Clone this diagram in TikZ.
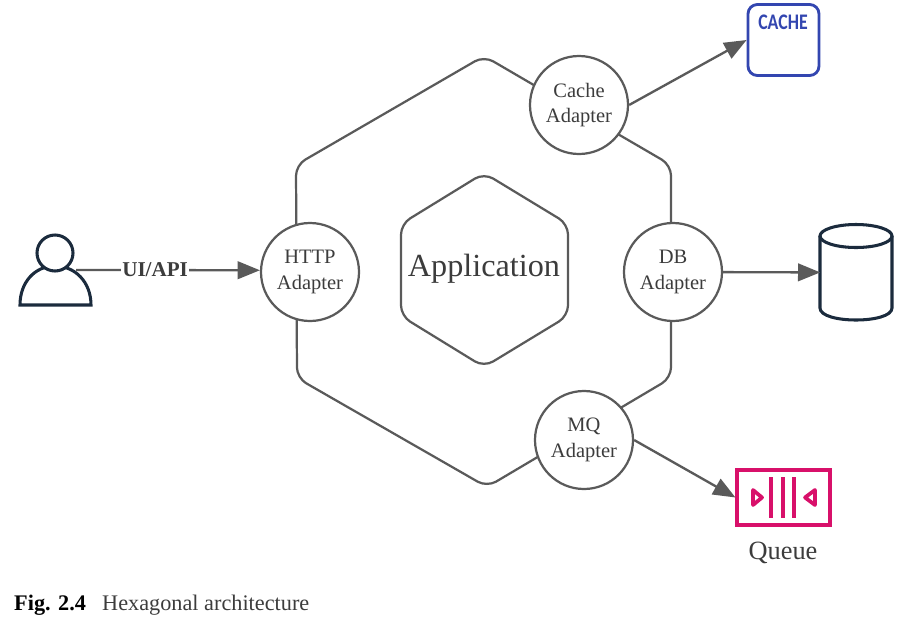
\documentclass[tikz,border=0pt]{standalone}
\usepackage{fontspec}
\setmainfont{Liberation Serif}
\newfontfamily\cachefont{Carlito}
\usetikzlibrary{positioning,arrows.meta}
\definecolor{linegray}{HTML}{5A5A5A}
\definecolor{textgray}{HTML}{3C3C3C}
\definecolor{navyline}{HTML}{1B2B3D}
\definecolor{cacheblue}{HTML}{3346B0}
\definecolor{queuepink}{HTML}{D8106A}
\tikzset{
  adapter/.style={circle,draw=linegray,line width=1.9pt,fill=white,minimum size=2.94cm,inner sep=0pt,
    align=center,text=textgray,font=\fontsize{17.5}{22}\selectfont},
  hexline/.style={draw=linegray,line width=1.9pt,rounded corners=9pt},
  flow/.style={draw=linegray,line width=2pt,-{Triangle[length=19pt,width=15pt]}},
}
\begin{document}
\begin{tikzpicture}[x=0.03cm,y=-0.03cm]
        \useasboundingbox (0,0) rectangle (911,633);

        % Hexagonos
        \draw[hexline] (484,56) -- (671,165) -- (671,378) -- (487,487) -- (297,378) -- (296,165) -- cycle;
        \draw[hexline] (484,173) -- (568,224) -- (568,316) -- (484,367) -- (401,316) -- (401,224) -- cycle;
        \node[text=textgray,font=\fontsize{27.5}{30}\selectfont] (application) at (484,269) {Application};

        % Adaptadores
        \node[adapter] (httpadapter) at (310,272) {HTTP\\Adapter};
        \node[adapter] (cacheadapter) at (579,105) {Cache\\Adapter};
        \node[adapter] (dbadapter) at (673,272) {DB\\Adapter};
        \node[adapter] (mqadapter) at (584,440) {MQ\\Adapter};

        % Usuario
        \draw[navyline,line width=2.6pt] (20,305) .. controls (20,282) and (35,266) .. (55,266)
            .. controls (75,266) and (91,282) .. (91,305) -- cycle;
        \node[circle,draw=navyline,line width=2.6pt,fill=white,minimum size=1.08cm,inner sep=0pt] (userhead) at (55,253) {};
        \coordinate (userright) at (76,270);
        \draw[flow] (userright) -- (httpadapter.178)
            node[pos=0.43,fill=white,inner sep=1pt,text=textgray,font=\fontsize{18}{20}\selectfont\bfseries] (uiapi) {UI/API};

        % Cache
        \node[draw=cacheblue,line width=2.4pt,rounded corners=8pt,minimum width=2.13cm,minimum height=2.13cm] (cache) at (783.5,40) {};
        \node[text=cacheblue,font=\cachefont\bfseries\fontsize{19}{20}\selectfont,xscale=0.8,inner sep=0pt] (cachetext) at (783,22) {CACHE};
        \draw[flow] (cacheadapter.east) -- (cache.west);

        % Banco
        \node[minimum width=2.13cm,minimum height=2.85cm,inner sep=0pt] (db) at (856,272.5) {};
        \draw[navyline,line width=2.6pt] (820,236) -- (820,308) .. controls (820,316) and (838,320) .. (856,320)
            .. controls (874,320) and (892,316) .. (892,308) -- (892,236);
        \draw[navyline,line width=2.6pt] (856,236) ellipse (36 and 11.5);
        \draw[flow] (dbadapter) -- (db);

        % Fila
        \node[draw=queuepink,line width=2.6pt,minimum width=2.79cm,minimum height=1.65cm,inner sep=0pt] (queue) at (783.5,497.5) {};
        \foreach \x in {771,783,794}
            \draw[queuepink,line width=2.6pt] (\x,477) -- (\x,518);
        \draw[queuepink,line width=3.2pt,line join=round] (753,490) -- (762,497.5) -- (753,505) -- cycle;
        \draw[queuepink,line width=3.2pt,line join=round] (815,490) -- (805,497.5) -- (815,505) -- cycle;
        \draw[flow] (mqadapter.east) -- (queue.west);
        \node[text=textgray,font=\fontsize{22.5}{24}\selectfont] (queuelabel) at (783,553) {Queue};

        % Legenda
        \node[anchor=base west,inner sep=0pt,font=\fontsize{19}{20}\selectfont\bfseries] (figlabel) at (14,610) {Fig. 2.4};
        \node[anchor=base west,inner sep=0pt,text=textgray,font=\fontsize{19}{20}\selectfont] (figcaption) at (102,610) {Hexagonal architecture};
    \end{tikzpicture}
\end{document}
